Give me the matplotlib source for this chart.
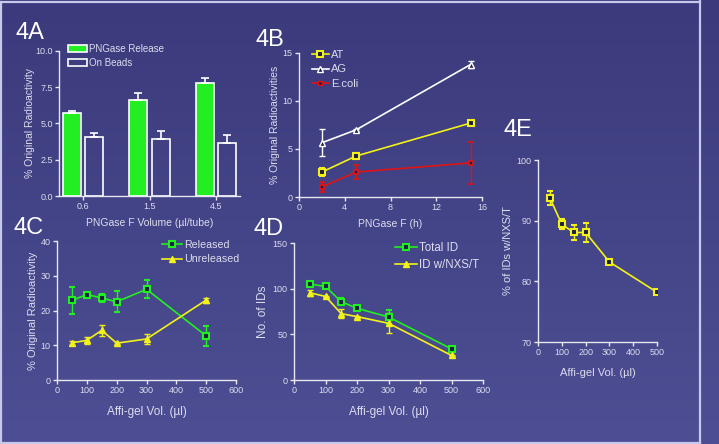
import numpy as np
import matplotlib.pyplot as plt
from matplotlib.lines import Line2D
from matplotlib.patches import Patch

plt.rcParams['font.family'] = ['Liberation Sans', 'DejaVu Sans']

# ---- data ----
# 4A
volumes_4a = ['0.6', '1.5', '4.5']
released_4a = [5.7, 6.6, 7.8]
released_err_4a = [0.15, 0.5, 0.35]
beads_4a = [4.05, 3.9, 3.65]
beads_err_4a = [0.3, 0.55, 0.55]

# 4B
hours_4b = [2, 5, 15]
at_4b = [2.6, 4.27, 7.7]
at_err_4b = [0.45, 0.3, 0.2]
ag_4b = [5.65, 7.0, 13.8]
ag_err_4b = [1.4, 0.1, 0.35]
ecoli_4b = [1.05, 2.6, 3.55]
ecoli_err_4b = [0.5, 0.75, 2.2]

# 4C
vol_4c = [50, 100, 150, 200, 300, 500]
released_4c = [22.9, 24.6, 23.6, 22.5, 26.1, 12.7]
released_err_4c = [3.9, 0.6, 1.1, 3.0, 2.6, 2.9]
unreleased_4c = [10.7, 11.4, 14.3, 10.6, 11.8, 23.0]
unreleased_err_4c = [0.5, 1.0, 1.5, 0.3, 1.3, 0.7]

# 4D
vol_4d = [50, 100, 150, 200, 300, 500]
total_4d = [105, 102.4, 85.7, 78.5, 69, 34.1]
total_err_4d = [2, 1, 4, 2, 8, 1]
nxst_4d = [95.5, 91.5, 72.6, 69.4, 62.1, 26.9]
nxst_err_4d = [3, 1, 5, 1, 11, 1]

# 4E
vol_4e = [50, 100, 150, 200, 300, 500]
pct_4e = [93.75, 89.4, 88.05, 88.05, 83.2, 78.2]
pct_err_4e = [1.1, 0.8, 1.2, 1.5, 0.3, 0.2]

W, H = 719, 444
fig = plt.figure(figsize=(W / 100, H / 100), dpi=100)

# background gradient
bg = fig.add_axes([0, 0, 1, 1], zorder=-10)
grad = np.linspace(0, 1, 256)[:, None]
top = np.array([0x3a, 0x3a, 0x7c]) / 255
bot = np.array([0x4e, 0x4e, 0x94]) / 255
img = top[None, None, :] * (1 - grad[:, :, None]) + bot[None, None, :] * grad[:, :, None]
bg.imshow(img, aspect='auto', extent=[0, 1, 0, 1])
bg.set_axis_off()

# frame lines
fc = '#c8c8ec'
for xs, ys in [([0, 700], [442.5, 442.5]), ([700, 700], [0, 442.5]),
               ([0, 700], [2, 2]), ([0.7, 0.7], [2, 442.5])]:
    fig.add_artist(Line2D([x / W for x in xs], [1 - y / H for y in ys],
                          color=fc, lw=1.6, transform=fig.transFigure))

TXT = '#dcdcee'
SP = '#e8e8f4'
GREEN = '#22ee22'
YEL = '#f2f21a'
RED = '#e01414'
MFC = '#1c1c48'


def make_ax(l, t, r, b):
    ax = fig.add_axes([l / W, 1 - b / H, (r - l) / W, (b - t) / H])
    ax.set_facecolor('none')
    for s in ['top', 'right']:
        ax.spines[s].set_visible(False)
    for s in ['left', 'bottom']:
        ax.spines[s].set_color(SP)
        ax.spines[s].set_linewidth(1.0)
    ax.tick_params(colors=SP, labelcolor=TXT, labelsize=6.5, length=3, width=1, pad=1.5)
    return ax


def leg(ax, handles, labels, x, y, fs, hl=2.0):
    ax.legend(handles, labels, loc='upper left', bbox_to_anchor=(x / W, 1 - y / H),
              bbox_transform=fig.transFigure, frameon=False, fontsize=fs,
              labelcolor=TXT, borderpad=0, borderaxespad=0, handletextpad=0.2,
              handlelength=hl, labelspacing=0.4)


def title(s, x, y):
    fig.text(x / W, 1 - y / H, s, color='white', fontsize=17, va='baseline', ha='left')


# ---- 4A ----
ax = make_ax(59, 51, 240, 196)
pos = np.arange(len(volumes_4a))
bw = 0.27
off = 0.17
ax.bar(pos - off, released_4a, bw, color=GREEN, edgecolor='white', lw=1.2,
       yerr=[np.zeros(3), released_err_4a], error_kw=dict(ecolor='white', capsize=3, elinewidth=1.2, capthick=1.2))
ax.bar(pos + off, beads_4a, bw, color='none', edgecolor='white', lw=1.2,
       yerr=[np.zeros(3), beads_err_4a], error_kw=dict(ecolor='white', capsize=3, elinewidth=1.2, capthick=1.2))
ax.set_xlim(-0.36, 2.36)
ax.set_ylim(0, 10)
ax.set_yticks([0, 2.5, 5, 7.5, 10])
ax.set_yticklabels(['0.0', '2.5', '5.0', '7.5', '10.0'])
ax.set_xticks(pos)
ax.set_xticklabels(volumes_4a)
ax.set_xlabel('PNGase F Volume (µl/tube)', color=TXT, fontsize=7.5, labelpad=5)
ax.set_ylabel('% Original Radioactivity', color=TXT, fontsize=7.5, labelpad=0)
leg(ax, [Patch(fc=GREEN, ec='white', lw=1.2), Patch(fc='none', ec='white', lw=1.2)],
    ['PNGase Release', 'On Beads'], 68, 44, 7)
title('4A', 15, 39)

# ---- 4B ----
ax = make_ax(299, 53, 482, 197)
kw = dict(capsize=2.5, elinewidth=1, capthick=1, lw=1.2)
ax.errorbar(hours_4b, at_4b, yerr=at_err_4b, color=YEL, marker='s', ms=5, mfc=MFC, mec=YEL, mew=1.5, **kw)
ax.errorbar(hours_4b, ag_4b, yerr=ag_err_4b, color='white', marker='^', ms=4.5, mfc=MFC, mec='white', mew=1, **kw)
ax.errorbar(hours_4b, ecoli_4b, yerr=ecoli_err_4b, color=RED, marker='s', ms=3.5, mfc=MFC, mec=RED, mew=1.2, **kw)
ax.set_xlim(0, 16)
ax.set_ylim(0, 15)
ax.set_xticks([0, 4, 8, 12, 16])
ax.set_yticks([0, 5, 10, 15])
ax.set_xlabel('PNGase F (h)', color=TXT, fontsize=7.5, labelpad=5)
ax.set_ylabel('% Original Radioactivities', color=TXT, fontsize=7.5, labelpad=2)
hb = [Line2D([], [], color=YEL, marker='s', ms=5, mfc=MFC, mec=YEL, mew=1.5, lw=1.2),
      Line2D([], [], color='white', marker='^', ms=4.5, mfc=MFC, mec='white', lw=1.2),
      Line2D([], [], color=RED, marker='s', ms=3.5, mfc=MFC, mec=RED, lw=1.2)]
leg(ax, hb, ['AT', 'AG', 'E.coli'], 312, 50, 8, hl=1.5)
title('4B', 256, 46)

# ---- 4C ----
ax = make_ax(57, 241, 236, 380)
ax.errorbar(vol_4c, released_4c, yerr=released_err_4c, color=GREEN, marker='s', ms=5, mfc=MFC, mec=GREEN, mew=1.5, **kw)
ax.errorbar(vol_4c, unreleased_4c, yerr=unreleased_err_4c, color=YEL, marker='^', ms=4.5, mfc=YEL, mec=YEL, **kw)
ax.set_xlim(0, 600)
ax.set_ylim(0, 40)
ax.set_xticks(range(0, 601, 100))
ax.set_yticks(range(0, 41, 10))
ax.set_xlabel('Affi-gel Vol. (µl)', color=TXT, fontsize=8.5, labelpad=8)
ax.set_ylabel('% Original Radioactivity', color=TXT, fontsize=8, labelpad=2)
hc = [Line2D([], [], color=GREEN, marker='s', ms=5, mfc=MFC, mec=GREEN, mew=1.5, lw=1.2),
      Line2D([], [], color=YEL, marker='^', ms=4.5, mfc=YEL, mec=YEL, lw=1.2)]
leg(ax, hc, ['Released', 'Unreleased'], 162, 240, 7.7, hl=1.9)
title('4C', 14, 234)

# ---- 4D ----
ax = make_ax(294, 243, 483, 380)
ax.errorbar(vol_4d, total_4d, yerr=total_err_4d, color=GREEN, marker='s', ms=5, mfc=MFC, mec=GREEN, mew=1.5, **kw)
ax.errorbar(vol_4d, nxst_4d, yerr=nxst_err_4d, color=YEL, marker='^', ms=4.5, mfc=YEL, mec=YEL, **kw)
ax.set_xlim(0, 600)
ax.set_ylim(0, 150)
ax.set_xticks(range(0, 601, 100))
ax.set_yticks([0, 50, 100, 150])
ax.set_xlabel('Affi-gel Vol. (µl)', color=TXT, fontsize=8.5, labelpad=8)
ax.set_ylabel('No. of IDs', color=TXT, fontsize=8.5, labelpad=3)
leg(ax, hc, ['Total ID', 'ID w/NXS/T'], 395, 242, 8.3, hl=1.9)
title('4D', 253, 235)

# ---- 4E ----
ax = make_ax(538, 160, 657, 342)
ax.errorbar(vol_4e, pct_4e, yerr=pct_err_4e, color=YEL, marker='s', ms=5, mfc=MFC, mec=YEL, mew=1.5, **kw)
ax.set_xlim(0, 500)
ax.set_ylim(70, 100)
ax.set_xticks(range(0, 501, 100))
ax.set_yticks([70, 80, 90, 100])
ax.set_xlabel('Affi-gel Vol. (µl)', color=TXT, fontsize=8, labelpad=8)
ax.set_ylabel('% of IDs w/NXS/T', color=TXT, fontsize=8, labelpad=3)
title('4E', 503, 136)

fig.savefig('out.png', dpi=100)
